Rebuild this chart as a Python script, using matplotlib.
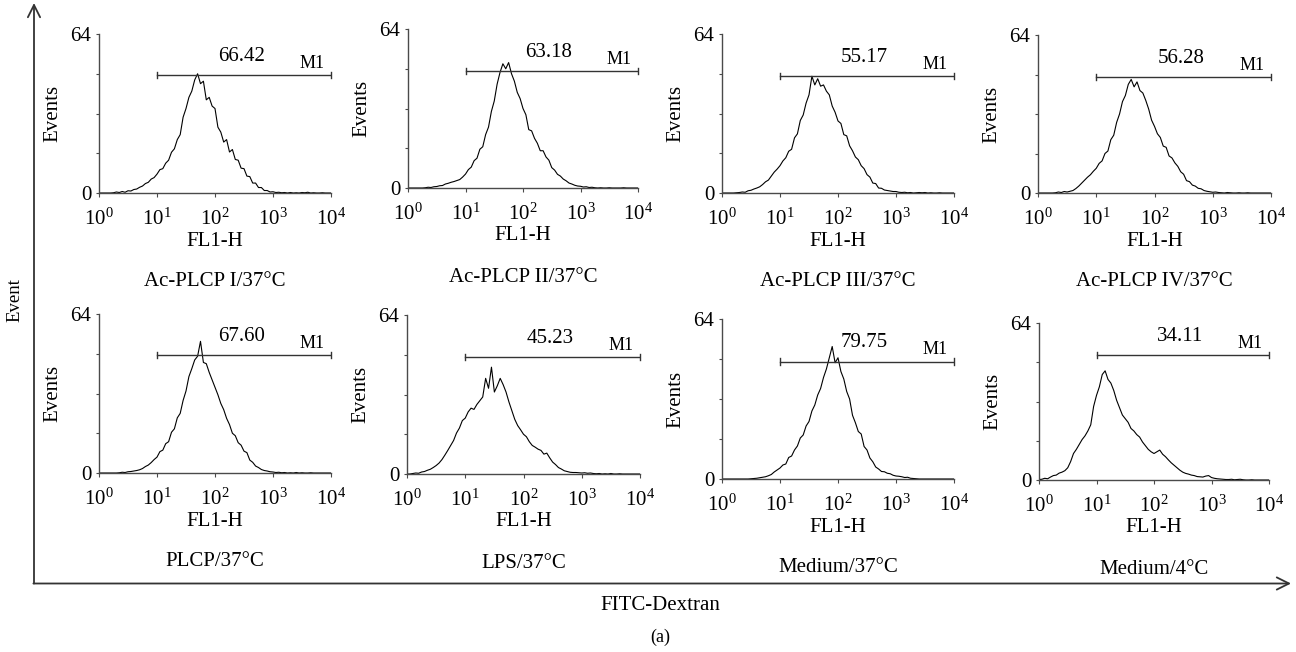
import numpy as np
import matplotlib.pyplot as plt
from matplotlib.ticker import FixedLocator, FixedFormatter, LogLocator, NullFormatter

plt.rcParams['font.family'] = ['Liberation Serif', 'DejaVu Serif']
plt.rcParams['mathtext.fontset'] = 'custom'
plt.rcParams['mathtext.rm'] = 'Liberation Serif'
plt.rcParams['mathtext.it'] = 'Liberation Serif:italic'

# channel grid: 81 points over 4 decades (step 0.05 in log10)
channels = np.logspace(0, 4, 81)

# events per channel
ac_plcp_1 = [0, 0, 0, 0, 0, 0.1, 0.4, 0.2, 0.6, 0.3,
             0.9, 0.8, 1.4, 1.6, 2.3, 2.8, 3.8, 4.3, 5.6, 6.2,
             7.6, 9.4, 9.8, 12.0, 13.2, 16.4, 17.8, 21.5, 23.5, 30.5,
             34.0, 38.5, 41.0, 45.5, 48.0, 44.0, 45.0, 37.5, 38.5, 35.0,
             34.0, 26.5, 24.5, 20.5, 21.5, 16.5, 17.5, 13.5, 13.2, 10.0,
             9.8, 6.8, 6.6, 4.0, 4.0, 2.2, 2.2, 1.0, 1.0, 0.4,
             0.5, 0.2, 0.3, 0.1, 0.2, 0, 0.2, 0, 0.1, 0,
             0.2, 0.1, 0.3, 0, 0.1, 0, 0, 0.1, 0, 0, 0]
ac_plcp_2 = [0, 0, 0, 0, 0, 0, 0.1, 0.3, 0.2, 0.5,
             0.6, 0.9, 1.0, 1.6, 1.9, 2.3, 2.6, 3.0, 3.4, 4.4,
             5.6, 7.4, 8.4, 11.0, 12.0, 15.6, 16.6, 21.5, 24.5, 30.8,
             35.0, 41.8, 46.5, 50.0, 48.0, 50.5, 46.0, 43.0, 38.5, 36.0,
             32.0, 29.5, 23.5, 23.0, 20.0, 18.0, 15.0, 15.0, 12.5, 11.2,
             8.2, 7.2, 5.5, 4.8, 3.6, 2.9, 2.0, 1.6, 1.1, 0.8,
             0.7, 0.4, 0.5, 0.2, 0.3, 0.1, 0, 0.1, 0, 0,
             0.1, 0, 0, 0, 0, 0.1, 0, 0, 0, 0, 0]
ac_plcp_3 = [0, 0, 0, 0, 0, 0.1, 0.2, 0.4, 0.3, 0.9,
             1.1, 1.6, 2.0, 2.5, 3.4, 4.5, 5.2, 6.8, 8.4, 9.6,
             11.0, 12.9, 14.2, 16.8, 17.6, 22.2, 23.8, 29.2, 31.4, 36.2,
             39.5, 47.0, 43.5, 46.0, 43.0, 43.5, 41.0, 39.5, 35.0, 32.5,
             29.0, 28.0, 23.5, 23.0, 19.0, 17.0, 14.5, 13.4, 11.0, 9.8,
             7.4, 6.4, 4.0, 3.8, 2.0, 1.9, 1.2, 1.0, 0.8, 0.6,
             0.6, 0.3, 0.2, 0.3, 0.1, 0.2, 0, 0.1, 0.2, 0.1,
             0.2, 0, 0.1, 0, 0, 0.1, 0, 0, 0, 0, 0]
ac_plcp_4 = [0, 0, 0, 0, 0, 0, 0.1, 0.4, 0.2, 0.6,
             0.4, 0.7, 1.0, 1.8, 2.8, 4.0, 5.2, 6.4, 7.4, 8.8,
             10.0, 12.0, 13.0, 16.0, 17.0, 21.6, 23.4, 28.6, 32.0, 37.0,
             39.5, 44.0, 46.0, 43.0, 45.0, 41.5, 40.5, 37.5, 34.0, 29.5,
             27.0, 24.0, 22.5, 19.0, 18.5, 15.0, 14.2, 12.2, 10.8, 8.6,
             7.6, 5.0, 4.6, 3.2, 2.8, 1.9, 1.7, 1.0, 0.7, 0.5,
             0.3, 0.4, 0.2, 0.1, 0, 0.2, 0.1, 0, 0, 0.1,
             0, 0, 0.1, 0, 0, 0, 0, 0, 0, 0, 0]
plcp = [0, 0, 0, 0, 0, 0, 0, 0.1, 0.3, 0.2,
        0.5, 0.6, 0.8, 1.0, 1.3, 1.8, 2.6, 3.2, 4.2, 5.4,
        6.4, 8.6, 9.2, 11.8, 12.6, 16.4, 17.8, 22.2, 24.0, 29.2,
        33.0, 38.8, 42.0, 45.5, 47.0, 53.0, 44.5, 44.0, 40.5, 37.5,
        34.5, 31.5, 28.0, 25.5, 22.0, 19.5, 16.0, 15.0, 12.2, 11.2,
        8.8, 8.2, 5.2, 4.3, 2.8, 2.2, 1.4, 1.0, 0.8, 0.5,
        0.4, 0.2, 0.3, 0.1, 0.2, 0, 0.1, 0, 0.2, 0,
        0.1, 0, 0, 0.1, 0, 0, 0, 0, 0, 0, 0]
lps = [0, 0, 0.2, 0.4, 0.3, 0.8, 1.0, 1.5, 1.9, 2.6,
       3.4, 4.4, 5.8, 7.6, 9.5, 11.5, 13.5, 16.5, 18.5, 21.5,
       22.5, 25.0, 26.5, 26.0, 28.0, 29.5, 31.0, 38.5, 34.5, 43.0,
       33.0, 35.5, 38.5, 36.0, 33.0, 29.0, 25.5, 22.0, 19.5, 17.8,
       16.0, 15.0, 13.0, 11.5, 10.8, 10.0, 9.5, 8.0, 8.4, 6.5,
       4.8, 3.8, 2.6, 2.0, 1.3, 1.0, 0.7, 0.6, 0.6, 0.5,
       0.4, 0.5, 0.3, 0.4, 0.2, 0.1, 0.2, 0, 0.1, 0,
       0.2, 0, 0, 0.1, 0, 0, 0, 0, 0, 0, 0]
medium_37 = [0, 0, 0, 0, 0, 0, 0, 0, 0, 0,
             0.1, 0.2, 0.3, 0.5, 0.7, 0.9, 1.3, 1.8, 2.8, 3.6,
             4.4, 5.6, 6.0, 8.6, 9.2, 11.6, 13.2, 16.4, 17.6, 21.2,
             23.0, 27.2, 29.6, 33.6, 36.2, 40.6, 44.0, 48.5, 53.0, 46.5,
             48.5, 43.0, 40.0, 35.0, 32.0, 25.5, 22.5, 19.0, 18.0, 13.0,
             11.6, 8.4, 6.9, 4.8, 4.0, 3.0, 2.9, 2.3, 2.1, 1.5,
             1.2, 1.1, 0.9, 0.6, 0.7, 0.3, 0.2, 0.1, 0, 0,
             0, 0, 0, 0, 0, 0, 0, 0, 0, 0, 0]
medium_4 = [0.2, 0.3, 0.7, 0.5, 1.2, 1.8, 2.0, 2.8, 3.2, 3.8,
            5.0, 7.5, 10.8, 12.5, 14.5, 16.5, 18.0, 20.0, 22.5, 30.0,
            34.5, 38.0, 43.0, 44.5, 41.0, 39.5, 36.5, 32.5, 29.5, 26.5,
            25.0, 23.5, 21.0, 20.0, 18.5, 17.5, 15.5, 14.0, 12.5, 11.5,
            10.8, 11.5, 12.2, 10.5, 9.5, 8.2, 7.0, 6.0, 5.0, 4.0,
            3.2, 2.7, 2.4, 2.0, 1.8, 1.4, 1.3, 1.2, 1.6, 1.8,
            1.0, 0.7, 0.5, 0.4, 0.3, 0.2, 0.2, 0.3, 0.1, 0.2,
            0.3, 0.1, 0, 0, 0.1, 0, 0, 0, 0, 0, 0]

series = [ac_plcp_1, ac_plcp_2, ac_plcp_3, ac_plcp_4, plcp, lps, medium_37, medium_4]
conditions = ['Ac-PLCP I/37°C', 'Ac-PLCP II/37°C', 'Ac-PLCP III/37°C', 'Ac-PLCP IV/37°C',
              'PLCP/37°C', 'LPS/37°C', 'Medium/37°C', 'Medium/4°C']
gate_pct = ['66.42', '63.18', '55.17', '56.28', '67.60', '45.23', '79.75', '34.11']
gate_level = [47.5, 47, 47, 47, 47.5, 47, 47, 51]

# panel boxes in pixels: x_left, x_right, y_top, y_bottom
boxes = [(99, 331, 34, 193), (408, 638, 29, 188), (722, 954, 34, 193), (1038, 1271, 35, 193),
         (99, 331, 314, 473), (407, 640, 315, 474), (722, 954, 319, 479), (1039, 1269, 323, 480)]

W, H = 1296, 652
fig = plt.figure(figsize=(W / 100, H / 100), dpi=100)

# outer axes with arrows
bg = fig.add_axes([0, 0, 1, 1], zorder=0)
bg.set_xlim(0, W)
bg.set_ylim(H, 0)
bg.axis('off')
arrow = dict(arrowstyle='->', lw=1.3, color='#333333', mutation_scale=22, shrinkA=0, shrinkB=0)
bg.annotate('', xy=(34, 3), xytext=(34, 583.5), arrowprops=arrow)
bg.annotate('', xy=(1291, 583.5), xytext=(33.4, 583.5), arrowprops=arrow)
bg.text(15, 300, 'Event', rotation=90, ha='center', va='center', fontsize=13.5)
bg.text(660, 605, 'FITC-Dextran', ha='center', va='center', fontsize=15)
bg.text(660, 637, '(a)', ha='center', va='center', fontsize=13)

fs = 15
spine_col = '#4a4a4a'
for i in range(8):
    x0, x1, yt, yb = boxes[i]
    ax = fig.add_axes([x0 / W, (H - yb) / H, (x1 - x0) / W, (yb - yt) / H], zorder=2)
    ax.patch.set_alpha(0)
    ax.plot(channels, series[i], color='black', lw=0.8)
    ax.set_xscale('log')
    ax.set_xlim(1, 1e4)
    ax.set_ylim(0, 64)
    for s in ['top', 'right']:
        ax.spines[s].set_visible(False)
    for s in ['left', 'bottom']:
        ax.spines[s].set_color(spine_col)
        ax.spines[s].set_linewidth(1.0)

    ax.xaxis.set_major_locator(FixedLocator([1, 10, 100, 1000, 10000]))
    ax.xaxis.set_major_formatter(FixedFormatter(['10$^{0}$', '10$^{1}$', '10$^{2}$', '10$^{3}$', '10$^{4}$']))
    ax.xaxis.set_minor_locator(LogLocator(base=10, subs=np.arange(2, 10)))
    ax.xaxis.set_minor_formatter(NullFormatter())
    ax.yaxis.set_major_locator(FixedLocator([0, 16, 32, 48, 64]))
    ax.yaxis.set_major_formatter(FixedFormatter(['0', '', '', '', '64']))
    ax.tick_params(axis='x', which='major', direction='out', length=3, width=0.8,
                   color=spine_col, labelsize=fs, pad=8.5)
    ax.tick_params(axis='x', which='minor', direction='out', length=2, width=0.6, color=spine_col)
    ax.tick_params(axis='y', which='major', direction='out', length=2.5, width=0.8,
                   color=spine_col, labelsize=fs, pad=3)

    # M1 gate marker
    lvl = gate_level[i]
    ax.plot([10, 1e4], [lvl, lvl], color='#333333', lw=1.0)
    ax.plot([10, 10], [lvl - 1.3, lvl + 1.3], color='#333333', lw=1.0)
    ax.plot([1e4, 1e4], [lvl - 1.3, lvl + 1.3], color='#333333', lw=1.0, clip_on=False)
    ax.text(10 ** 2.45, lvl + 7.5, gate_pct[i], ha='center', va='center', fontsize=fs)
    ax.text(10 ** 3.67, lvl + 1.2, 'M1', ha='center', va='bottom', fontsize=13)

    ax.annotate('Events', xy=(0, 0.5), xycoords='axes fraction', xytext=(-46, 0),
                textcoords='offset pixels', rotation=90, ha='center', va='center', fontsize=fs)
    ax.annotate('FL1-H', xy=(0.5, 0), xycoords='axes fraction', xytext=(0, -48),
                textcoords='offset pixels', ha='center', va='center', fontsize=fs)
    ax.annotate(conditions[i], xy=(0.5, 0), xycoords='axes fraction', xytext=(0, -89),
                textcoords='offset pixels', ha='center', va='center', fontsize=fs)

fig.savefig('out.png', dpi=100)
